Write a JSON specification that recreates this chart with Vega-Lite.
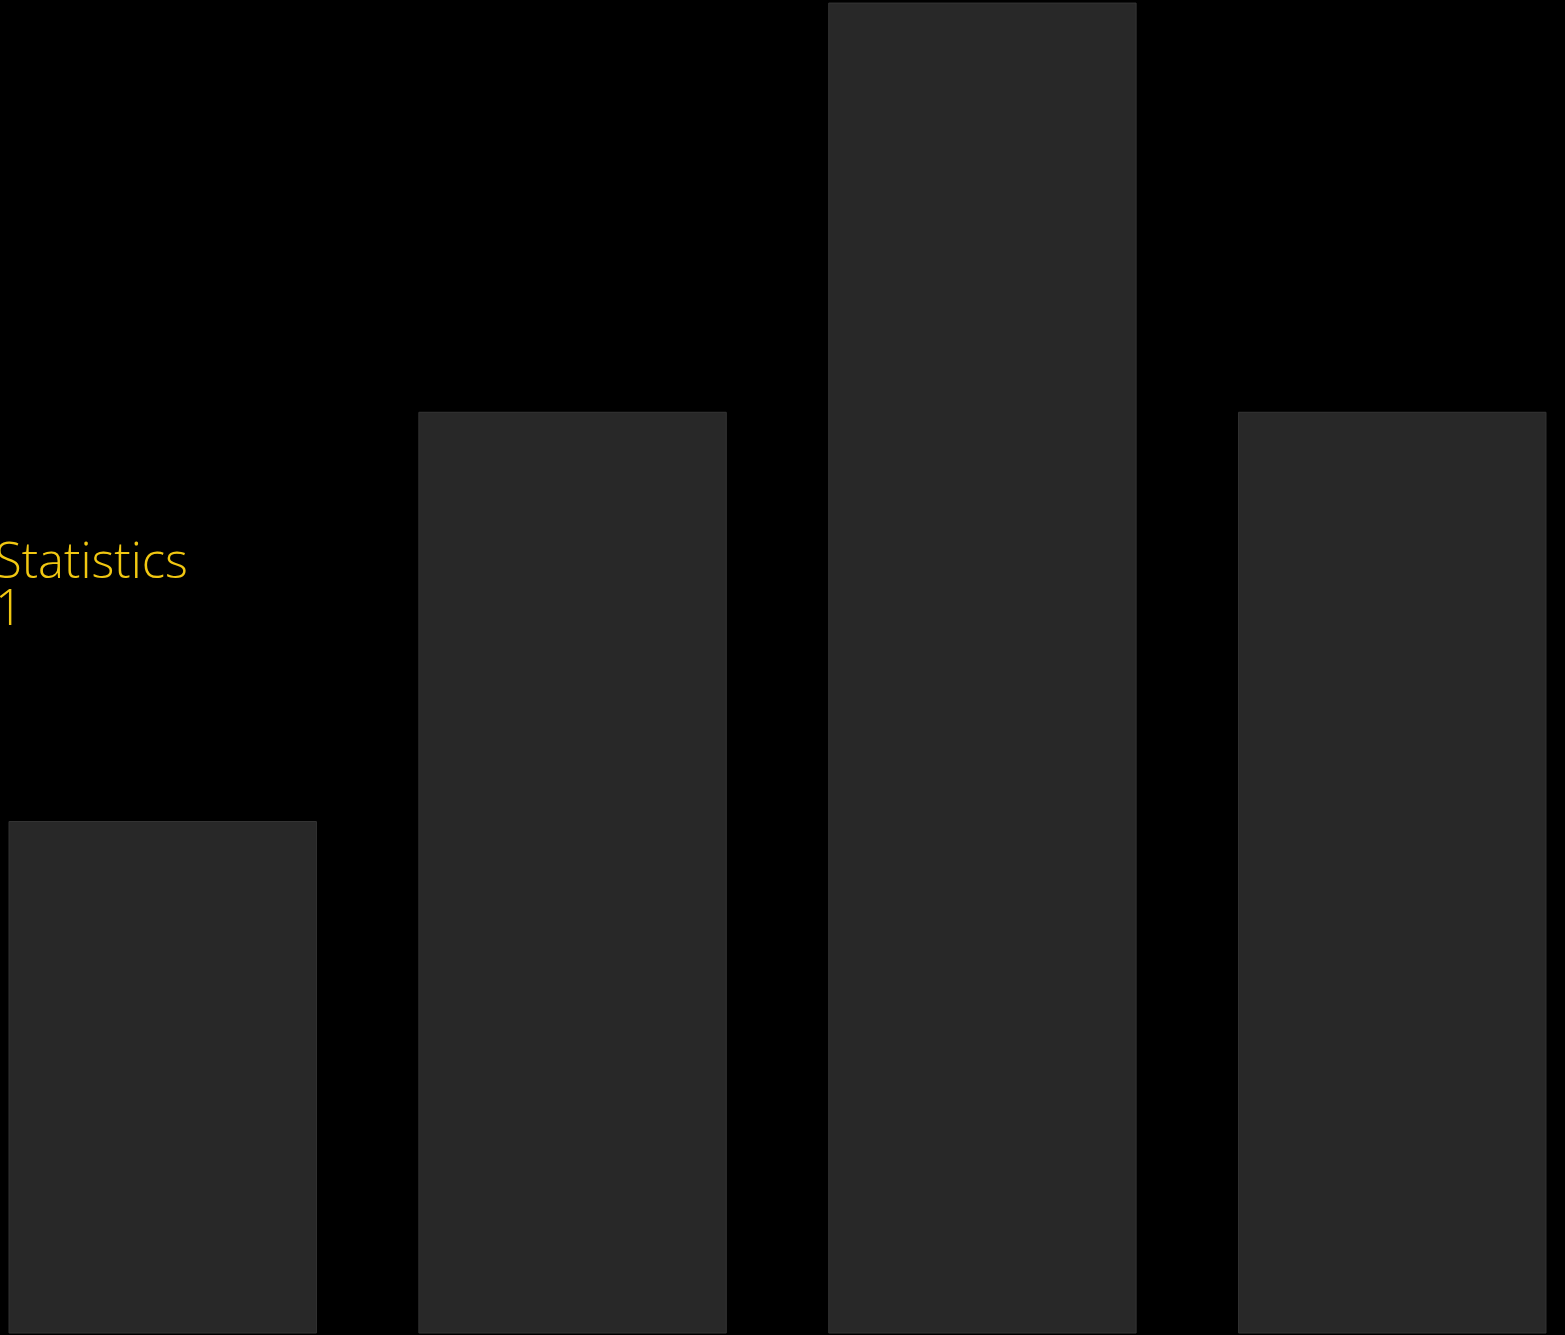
{
  "$schema": "https://vega.github.io/schema/vega-lite/v6.json",
  "width": 1555,
  "height": 1333,
  "autosize": "none",
  "padding": {"left": 0, "top": 0, "right": 10, "bottom": 2},
  "background": "#000000",
  "config": {"view": {"stroke": null}},
  "title": {
    "text": ["Statistics", "1"],
    "anchor": "start",
    "frame": "group",
    "orient": "top",
    "offset": 0,
    "baseline": "alphabetic",
    "dx": -5,
    "dy": 674,
    "font": "Open Sans",
    "fontWeight": 300,
    "fontSize": 49,
    "lineHeight": 47,
    "color": "#F2C811"
  },
  "data": {
    "values": [
      {"category": "A", "value": 5},
      {"category": "B", "value": 9},
      {"category": "C", "value": 13},
      {"category": "D", "value": 9}
    ]
  },
  "mark": {"type": "bar", "fill": "#282828", "stroke": "#343434", "strokeWidth": 1},
  "encoding": {
    "x": {
      "field": "category",
      "type": "nominal",
      "axis": null,
      "scale": {"paddingInner": 0.25, "paddingOuter": 0.022}
    },
    "y": {
      "field": "value",
      "type": "quantitative",
      "axis": null,
      "scale": {"domain": [0, 13.03], "nice": false}
    }
  }
}
